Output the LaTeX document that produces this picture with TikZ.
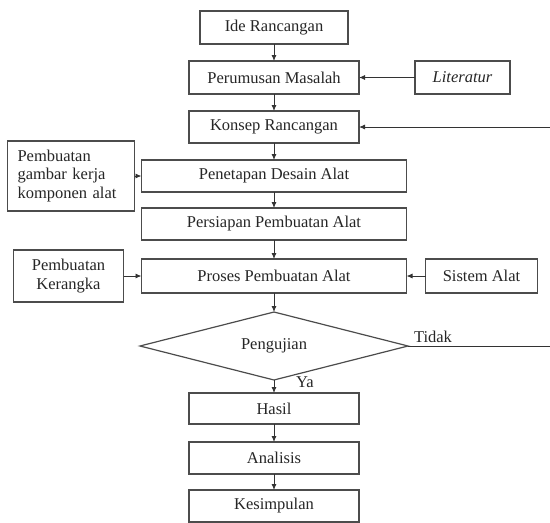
\documentclass[tikz,border=0pt]{standalone}
\usepackage{fontspec}
\setmainfont{Liberation Serif}
\usepackage{tikz}
\usetikzlibrary{shapes.geometric, arrows.meta, positioning, calc}

\begin{document}
\begin{tikzpicture}[
    x=1pt, y=-1pt,
    every node/.style={font=\fontsize{16.5}{18.5}\selectfont, text=black!85, outer sep=0pt},
    block/.style={rectangle, draw=black!70, line width=1.2pt, minimum height=32pt,
                  inner sep=2pt, align=center},
    mainblock/.style={block, minimum width=265pt},
    midblock/.style={block, minimum width=170pt},
    decision/.style={diamond, aspect=3.94, draw=black!70, line width=1.2pt, minimum width=268pt,
                     minimum height=68pt, inner sep=0pt},
    arrow/.style={-{Latex[length=6pt, width=5pt]}, line width=0.9pt, black!80},
    label/.style={inner sep=2pt}
]
    % kolom utama
    \useasboundingbox (0,0) rectangle (550,523);
    \node[block, minimum width=148pt, minimum height=33pt] (ide) at (274,27.5) {Ide Rancangan};
    \node[midblock, minimum height=33pt, below=17pt of ide] (rumus) {Perumusan Masalah};
    \node[midblock, below=17pt of rumus] (konsep) {Konsep Rancangan};
    \node[mainblock, below=17pt of konsep] (desain) {Penetapan Desain Alat};
    \node[mainblock, below=16pt of desain] (siap) {Persiapan Pembuatan Alat};
    \node[mainblock, minimum height=34pt, below=19pt of siap] (proses) {Proses Pembuatan Alat};
    \node[decision, below=19pt of proses] (uji) {Pengujian};
    \node[midblock, minimum height=31pt, below=13pt of uji] (hasil) {Hasil};
    \node[midblock, below=18pt of hasil] (analisis) {Analisis};
    \node[midblock, below=16pt of analisis] (simpul) {Kesimpulan};

    % kotak samping
    \node[block, minimum width=95pt, minimum height=33pt, right=56pt of rumus] (literatur) {\textit{Literatur}};
    \node[block, text width=107pt, inner xsep=10pt, minimum height=70pt, align=left,
          left=7pt of desain] (gambar) {Pembuatan\\gambar kerja\\komponen alat};
    \node[block, minimum width=110pt, minimum height=52pt, left=18pt of proses] (rangka) {Pembuatan\\Kerangka};
    \node[block, minimum width=112pt, minimum height=34pt, right=19pt of proses] (sistem) {Sistem Alat};
    \coordinate (kanan) at (551,0);

    \draw[arrow] (ide) -- (rumus);
    \draw[arrow] (rumus) -- (konsep);
    \draw[arrow] (konsep) -- (desain);
    \draw[arrow] (desain) -- (siap);
    \draw[arrow] (siap) -- (proses);
    \draw[arrow] (proses) -- (uji);
    \draw[arrow] (uji) -- node[label, right=20pt, yshift=4pt] {Ya} (hasil);
    \draw[arrow] (hasil) -- (analisis);
    \draw[arrow] (analisis) -- (simpul);

    \draw[arrow] (literatur) -- (rumus);
    \draw[arrow] (gambar) -- (desain);
    \draw[arrow] (rangka) -- (proses);
    \draw[arrow] (sistem) -- (proses);
    \draw[arrow] (uji.east) -- (uji.east -| kanan) -- (konsep.east -| kanan) -- (konsep.east);
    \node[label, above right=1pt and 4pt of uji.east] (tidak) {Tidak};
\end{tikzpicture}
\end{document}
